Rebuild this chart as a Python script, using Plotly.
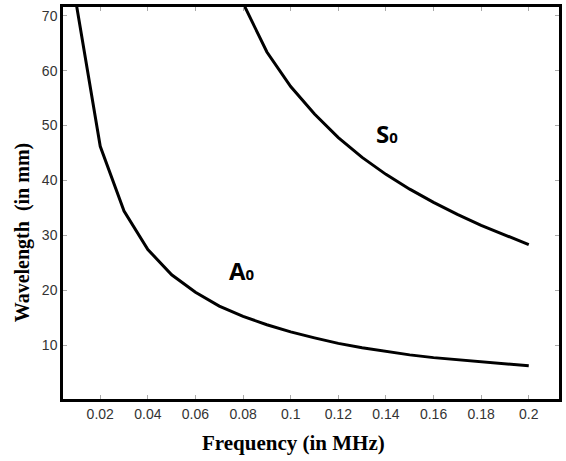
import plotly.graph_objects as go

freq_a0 = [0.01, 0.02, 0.03, 0.04, 0.05, 0.06, 0.07, 0.08, 0.09, 0.10,
           0.11, 0.12, 0.13, 0.14, 0.15, 0.16, 0.17, 0.18, 0.19, 0.20]
wave_a0 = [72.0, 46.2, 34.4, 27.4, 22.8, 19.6, 17.1, 15.2, 13.7, 12.4,
           11.3, 10.3, 9.5, 8.8, 8.2, 7.7, 7.3, 6.9, 6.5, 6.2]

freq_s0 = [0.08, 0.09, 0.10, 0.11, 0.12, 0.13, 0.14, 0.15, 0.16, 0.17, 0.18, 0.19, 0.20]
wave_s0 = [72.3, 63.4, 57.1, 52.1, 47.8, 44.2, 41.1, 38.4, 36.0, 33.8, 31.8, 30.0, 28.3]

x_ticks = [0.02, 0.04, 0.06, 0.08, 0.1, 0.12, 0.14, 0.16, 0.18, 0.2]
x_tick_labels = ["0.02", "0.04", "0.06", "0.08", "0.1", "0.12", "0.14", "0.16", "0.18", "0.2"]
y_ticks = [10, 20, 30, 40, 50, 60, 70]

fig = go.Figure()
fig.add_trace(go.Scatter(x=freq_a0, y=wave_a0, mode="lines",
                         line=dict(color="black", width=3), showlegend=False))
fig.add_trace(go.Scatter(x=freq_s0, y=wave_s0, mode="lines",
                         line=dict(color="black", width=3), showlegend=False))

mode_font = dict(family="Open Sans", size=24, color="black")
fig.add_annotation(x=0.0797, y=23.6, xref="x", yref="y", showarrow=False,
                   text="<b>A<span style='font-size:15px'>0</span></b>", font=mode_font)
fig.add_annotation(x=0.1405, y=48.5, xref="x", yref="y", showarrow=False,
                   text="<b>S<span style='font-size:15px'>0</span></b>", font=mode_font)

fig.add_annotation(x=0.465, y=-0.111, xref="paper", yref="paper", showarrow=False,
                   text="<b>Frequency (in MHz)</b>",
                   font=dict(family="Liberation Serif", size=21, color="black"),
                   xanchor="center", yanchor="middle")
fig.add_annotation(x=-0.081, y=0.425, xref="paper", yref="paper", showarrow=False,
                   text="<b>Wavelength&nbsp; (in mm)</b>",
                   font=dict(family="Liberation Serif", size=20, color="black"),
                   textangle=-90, xanchor="center", yanchor="middle")

axis_common = dict(showgrid=False, zeroline=False, showline=True, linecolor="black",
                   linewidth=2.5, mirror="allticks", ticks="inside", ticklen=4,
                   tickcolor="#aaaaaa", tickwidth=1,
                   tickfont=dict(family="Liberation Sans", size=14, color="#333333"))

fig.update_xaxes(range=[0.00436, 0.2127], tickvals=x_ticks, ticktext=x_tick_labels, **axis_common)
fig.update_yaxes(range=[0.16, 71.6], tickvals=y_ticks, **axis_common)

fig.update_layout(width=566, height=461, margin=dict(l=63, r=4, t=7, b=62),
                  plot_bgcolor="white", paper_bgcolor="white")

fig.write_html("out.html", config={"displayModeBar": False},
               post_script="document.body.style.margin='0';document.body.style.overflow='hidden';")
